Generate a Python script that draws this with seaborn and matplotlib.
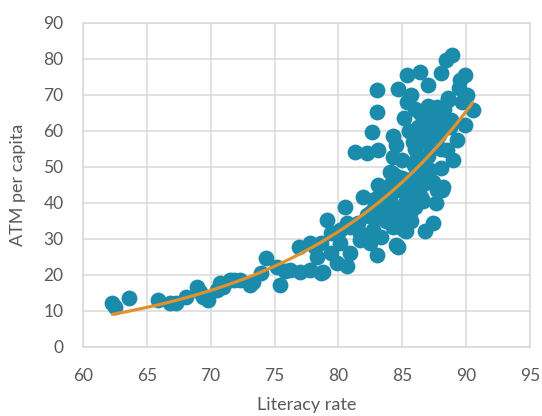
import numpy as np
import pandas as pd
import matplotlib
matplotlib.use("Agg")
import matplotlib.pyplot as plt
import seaborn as sns

literacy = [
    62.3, 62.5, 63.6, 65.9, 66.8, 67.3, 68.1, 68.9, 69.2, 69.4, 69.8, 70.5, 70.7, 71.0, 71.5, 71.8,
    72.3, 73.1, 73.3, 73.9, 74.3, 75.2, 75.4, 75.8, 76.2, 76.9, 77.0, 77.8, 77.8, 78.2, 78.3, 78.6,
    78.6, 78.8, 79.1, 79.4, 79.4, 79.9, 80.1, 80.1, 80.5, 80.7, 80.7, 80.9, 80.9, 81.3, 81.5, 81.7,
    81.7, 81.9, 82.2, 82.2, 82.5, 82.5, 82.6, 82.7, 83.0, 83.0, 83.0, 83.1, 83.1, 83.3, 83.3, 83.5,
    83.8, 84.0, 84.0, 84.2, 84.3, 84.3, 84.3, 84.5, 84.6, 84.7, 84.7, 84.8, 84.8, 85.1, 85.1, 85.3,
    85.4, 85.4, 85.4, 85.4, 85.6, 85.8, 86.2, 86.2, 86.4, 86.4, 86.4, 86.5, 86.8, 86.8, 86.9, 86.9,
    87.0, 87.0, 87.2, 87.4, 87.4, 87.6, 87.7, 87.7, 88.0, 88.0, 88.0, 88.1, 88.2, 88.4, 88.5, 88.6,
    88.7, 88.9, 89.0, 89.3, 89.5, 89.9, 89.9, 90.1, 90.5,
    82.4, 82.8, 83.2, 83.6, 83.9, 84.1, 84.9, 85.0, 85.2, 85.5, 85.7, 86.0, 86.3,
    82.9, 83.7, 84.5, 85.9, 86.6, 86.1,
    84.5, 85.5, 86.0, 86.6, 87.2, 85.0, 86.3, 84.0, 85.8, 87.0, 87.8, 88.3, 86.0, 85.7,
    84.2, 86.9, 88.6, 89.4,
    86.8, 87.4, 88.0, 87.0, 88.8, 86.2, 89.7, 87.9,
]
atm = [
    12.2, 11.1, 13.6, 13.1, 12.2, 12.2, 13.9, 16.7, 15.3, 13.9, 13.1, 15.8, 17.8, 16.7, 18.6, 18.6,
    18.6, 17.2, 18.1, 20.6, 24.7, 22.2, 17.2, 21.0, 21.4, 27.8, 20.8, 21.4, 28.9, 27.8, 25.0, 20.6,
    28.9, 20.8, 35.3, 26.1, 31.7, 23.3, 32.5, 28.9, 38.9, 22.5, 34.4, 33.3, 26.0, 54.2, 34.4, 29.7,
    31.7, 41.7, 53.9, 36.7, 37.2, 28.9, 59.7, 32.5, 25.6, 65.3, 71.4, 45.0, 54.7, 30.6, 40.0, 44.0,
    37.2, 48.6, 40.8, 48.3, 52.8, 33.3, 58.6, 28.3, 38.1, 27.8, 71.6, 33.3, 43.6, 32.5, 63.6, 32.2,
    38.1, 43.6, 68.1, 75.5, 37.2, 57.0, 41.7, 61.1, 48.3, 65.0, 76.4, 41.7, 32.2, 45.6, 46.4, 56.7,
    72.8, 60.5, 49.2, 34.4, 45.8, 40.0, 43.6, 66.7, 49.7, 76.1, 55.0, 43.6, 44.4, 79.7, 54.7, 69.2,
    61.1, 81.1, 51.9, 57.5, 74.1, 75.5, 61.7, 70.0, 65.8,
    36.5, 38.5, 36.0, 42.0, 37.0, 38.5, 36.5, 47.0, 40.0, 42.0, 35.0, 39.0, 44.0,
    41.0, 35.0, 47.5, 50.5, 40.5, 52.0,
    56.0, 60.0, 55.0, 62.0, 58.0, 52.0, 50.0, 45.0, 47.0, 53.0, 62.0, 66.0, 66.0, 70.0,
    43.0, 64.0, 68.5, 72.0,
    63.0, 61.0, 64.0, 67.0, 63.0, 58.0, 68.0, 59.0,
]

df = pd.DataFrame({"Literacy rate": literacy, "ATM per capita": atm})

# Exponential trendline fitted in log space (as a spreadsheet does)
b, ln_a = np.polyfit(df["Literacy rate"], np.log(df["ATM per capita"]), 1)
xs = np.linspace(df["Literacy rate"].min(), df["Literacy rate"].max(), 200)
trend = pd.DataFrame({"x": xs, "y": np.exp(ln_a) * np.exp(b * xs)})

sns.set_theme(style="white")
plt.rcParams["font.family"] = ["Lato", "DejaVu Sans"]

fig = plt.figure(figsize=(5.42, 4.16), dpi=100)
ax = fig.add_axes([0.153, 0.166, 0.825, 0.779])

teal = "#1B8BAC"
orange = "#E0922F"
grid = "#D9D9D9"
text = "#595959"

sns.scatterplot(data=df, x="Literacy rate", y="ATM per capita", ax=ax,
                color=teal, s=130, edgecolor=teal, linewidth=0, alpha=1, zorder=3)
sns.lineplot(data=trend, x="x", y="y", ax=ax, color=orange, linewidth=2.3, zorder=4)

ax.set_xlim(60, 95)
ax.set_ylim(0, 90)
ax.set_xticks(np.arange(60, 96, 5))
ax.set_yticks(np.arange(0, 91, 10))
ax.grid(True, color=grid, linewidth=1.1)
ax.set_axisbelow(True)
for sp in ax.spines.values():
    sp.set_color(grid)
    sp.set_linewidth(1.1)
ax.tick_params(axis="both", length=0, labelsize=12.5, labelcolor=text)
ax.tick_params(axis="x", pad=15)
ax.tick_params(axis="y", pad=14)
ax.set_xlabel("Literacy rate", fontsize=13, color=text)
ax.set_ylabel("ATM per capita", fontsize=13, color=text)
ax.xaxis.set_label_coords(0.5, -0.155)
ax.yaxis.set_label_coords(-0.128, 0.5)

fig.savefig("out.png", dpi=100)
